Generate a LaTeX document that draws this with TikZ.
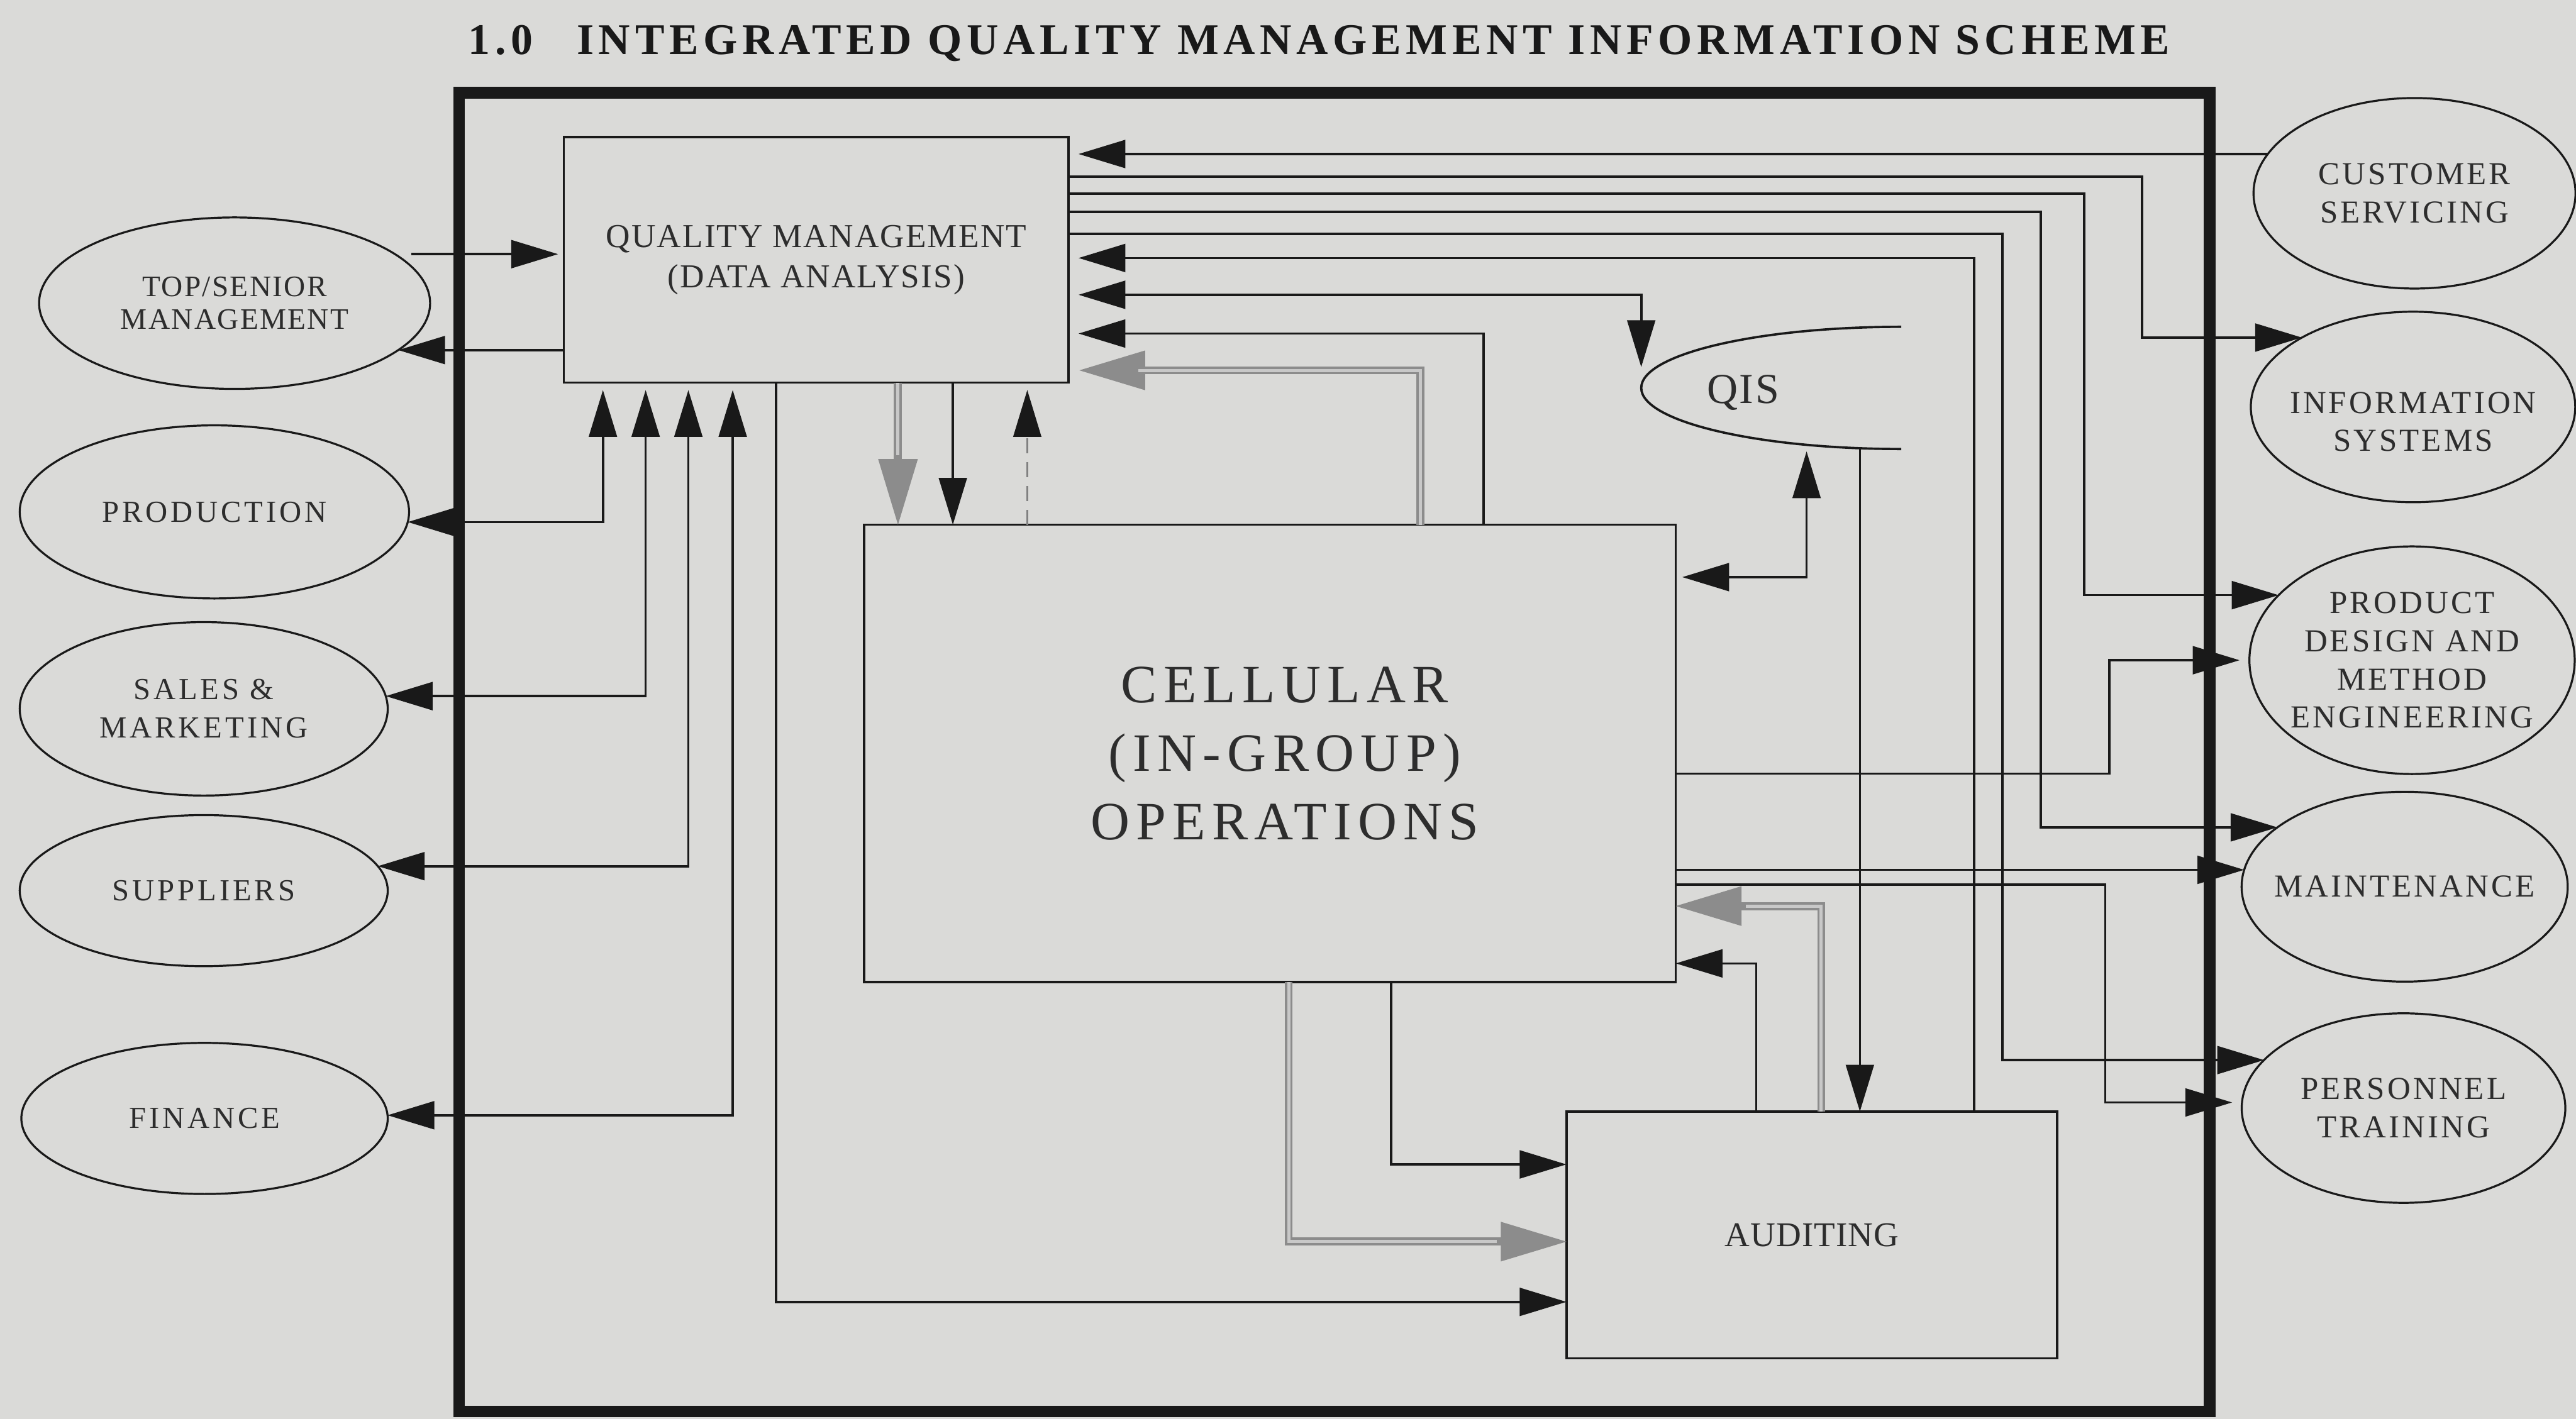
\documentclass[tikz,border=0pt]{standalone}
\usepackage{fontspec}
\setmainfont{Liberation Serif}
\usetikzlibrary{arrows.meta, shapes.geometric, calc}
\definecolor{paper}{RGB}{218,218,216}
\definecolor{ink}{RGB}{25,25,25}
\definecolor{txt}{RGB}{45,45,45}
\definecolor{hatch}{RGB}{140,140,140}
\definecolor{hatchlt}{RGB}{200,200,200}
\tikzset{
  box/.style={rectangle, draw=ink, line width=0.8pt, inner sep=0pt, outer sep=0pt,
    align=center, text=txt},
  ell/.style={ellipse, draw=ink, line width=0.7pt, inner sep=-2mm, outer sep=0pt,
    align=center, text=txt,
    font=\fontsize{10.6}{13.3}\selectfont\addfontfeatures{LetterSpace=10}},
  rell/.style={ell, font=\fontsize{11.1}{13.2}\selectfont\addfontfeatures{LetterSpace=8}},
  cellfont/.style={align=center, text=txt,
    font=\fontsize{18.7}{23.8}\selectfont\addfontfeatures{LetterSpace=12}},
  arr/.style={-{Triangle[length=5.7mm,width=3.4mm]}, draw=ink, line width=0.8pt},
  biarr/.style={{Triangle[length=5.7mm,width=3.4mm]}-{Triangle[length=5.7mm,width=3.4mm]},
    draw=ink, line width=0.8pt},
  grayarr/.style={-{Triangle[length=8mm,width=4.8mm,line width=0.4pt]}, draw=hatch, line width=2.8pt,
    postaction={draw=hatchlt, line width=1.1pt, -, shorten >=8.5mm}},
  dasharr/.style={-{Triangle[length=5.7mm,width=3.4mm,color=ink]}, draw=gray, line width=0.6pt,
    dash pattern=on 1.8mm off 1.1mm}
}
\begin{document}
\begin{tikzpicture}[x=1mm, y=-1mm]
  \path[use as bounding box, fill=paper] (0,0) rectangle (313.6,172.8);
  % Title and frame
  \node[font=\fontsize{15.2}{18}\selectfont\bfseries\addfontfeatures{LetterSpace=11}, anchor=base, text=ink]
    (title) at (160.6,6.6) {1.0\quad INTEGRATED QUALITY MANAGEMENT INFORMATION SCHEME};
  \draw[ink, line width=1.4mm] (55.9,11.3) rectangle (269,171.9);
  % Boxes
  \node[box, minimum width=61.46mm, minimum height=29.9mm,
    font=\fontsize{11.6}{14}\selectfont\addfontfeatures{LetterSpace=4}]
    (qm) at (99.37,31.65) {QUALITY MANAGEMENT\\(DATA ANALYSIS)};
  \node[box, minimum width=98.8mm, minimum height=55.7mm,
    label={[cellfont, xshift=1.8mm]center:CELLULAR\\(IN-GROUP)\\OPERATIONS}]
    (cell) at (154.6,91.75) {};
  \node[box, minimum width=59.74mm, minimum height=30.06mm,
    font=\fontsize{12}{14}\selectfont\addfontfeatures{LetterSpace=2}]
    (aud) at (220.57,150.39) {AUDITING};
  % QIS (open half ellipse)
  \node[ellipse, inner sep=0pt, outer sep=0pt, minimum width=63.32mm, minimum height=14.88mm]
    (qis) at (231.46,47.24) {};
  \draw[ink, line width=0.8pt] (qis.south) arc[start angle=90, end angle=270, x radius=31.66, y radius=7.44];
  \node[font=\fontsize{14.8}{17}\selectfont\addfontfeatures{LetterSpace=4}, text=txt]
    (qistext) at (212.2,47.8) {QIS};
  % Left ellipses
  \node[ell, minimum width=47.6mm, minimum height=20.88mm,
    font=\fontsize{10.3}{11.4}\selectfont\addfontfeatures{LetterSpace=5}]
    (top) at (28.56,36.92) {TOP/SENIOR\\MANAGEMENT};
  \node[ell, minimum width=47.4mm, minimum height=21.08mm] (prod) at (26.1,62.34) {PRODUCTION};
  \node[ell, minimum width=44.8mm, minimum height=21.12mm] (sales) at (24.8,86.32) {SALES \&\\MARKETING};
  \node[ell, minimum width=44.8mm, minimum height=18.4mm] (supp) at (24.8,108.46) {SUPPLIERS};
  \node[ell, minimum width=44.6mm, minimum height=18.4mm] (fin) at (24.9,136.2) {FINANCE};
  % Right ellipses
  \node[rell, minimum width=39.2mm, minimum height=23.2mm] (cust) at (293.94,23.54) {CUSTOMER\\SERVICING};
  \node[rell, minimum width=39.5mm, minimum height=23.2mm,
    label={[rell, draw=none, yshift=-1.8mm]center:INFORMATION\\SYSTEMS}] (info) at (293.76,49.56) {};
  \node[rell, minimum width=39.6mm, minimum height=27.72mm] (pdme) at (293.64,80.4)
    {PRODUCT\\DESIGN AND\\METHOD\\ENGINEERING};
  \node[rell, minimum width=39.7mm, minimum height=23.12mm] (maint) at (292.74,107.98) {MAINTENANCE};
  \node[rell, minimum width=39.4mm, minimum height=23.08mm] (pers) at (292.6,134.94) {PERSONNEL\\TRAINING};

  % Top/senior management
  \draw[arr, shorten <=2mm, shorten >=0.7mm] (top.17) -- (top.17 -| qm.west);
  \draw[arr] (qm.west |- top.-16) -- (top.-16);
  % Departments <-> QM
  \draw[biarr, shorten >=0.9mm] (prod.-3) -| (73.4,0 |- qm.south);
  \draw[biarr, shorten >=0.9mm] (sales.4) -| (78.6,0 |- qm.south);
  \draw[biarr, shorten >=0.9mm] (supp.8) -| (83.8,0 |- qm.south);
  \draw[biarr, shorten >=0.9mm] (fin.1) -| (89.2,0 |- qm.south);
  \draw[arr] (94.5,0 |- qm.south) |- ($(aud.west)+(0,8.15)$);
  % QM <-> cellular
  \draw[grayarr] (109.32,0 |- qm.south) -- (109.32,0 |- cell.north);
  \draw[arr] (116,0 |- qm.south) -- (116,0 |- cell.north);
  \draw[dasharr, shorten >=0.9mm] (125.06,0 |- cell.north) -- (125.06,0 |- qm.south);
  % Right side of QM
  \draw[arr, shorten >=1.2mm] (cust.165) -- (cust.165 -| qm.east);
  \draw[arr] (qm.east |- 0,21.54) -| (260.78,0 |- info.148) -- (info.148);
  \draw[arr] (qm.east |- 0,23.56) -| (253.7,0 |- pdme.154) -- (pdme.154);
  \draw[arr] (qm.east |- 0,25.8) -| (248.46,0 |- maint.155) -- (maint.155);
  \draw[arr] (qm.east |- 0,28.5) -| (243.76,0 |- pers.161) -- (pers.161);
  \draw[arr, shorten >=1.2mm] (240.34,0 |- aud.north) |- (qm.east |- 0,31.42);
  \draw[biarr, shorten <=1.2mm, shorten >=0.3mm] (qm.east |- 0,35.9) -| (qis.west |- 0,45);
  \draw[arr, shorten >=1.2mm] (180.6,0 |- cell.north) |- (qm.east |- 0,40.62);
  \draw[grayarr, shorten >=1.3mm] (172.9,0 |- cell.north) |- (qm.east |- 0,45.1);
  % Cellular <-> QIS and departments
  \draw[biarr, shorten <=0.8mm, shorten >=0.8mm] (cell.east |- 0,70.28) -| (qis.211);
  \draw[arr, shorten >=1.2mm] (cell.east |- 0,94.2) -| (256.8,0 |- pdme.west) -- (pdme.west);
  \draw[arr] (maint.174 -| cell.east) -- (maint.174);
  \draw[arr, shorten >=1.2mm] (cell.east |- 0,107.72) -| (256.3,0 |- pers.178) -- (pers.178);
  % Auditing links
  \draw[grayarr] (221.72,0 |- aud.north) |- (cell.east |- 0,110.34);
  \draw[arr] (213.8,0 |- aud.north) |- (cell.east |- 0,117.32);
  \draw[arr] (226.42,0 |- qis.south) -- (226.42,0 |- aud.north);
  \draw[grayarr] (156.88,0 |- cell.south) |- (aud.west |- 0,151.2);
  \draw[arr] (169.34,0 |- cell.south) |- (aud.west |- 0,141.8);
\end{tikzpicture}
\end{document}
